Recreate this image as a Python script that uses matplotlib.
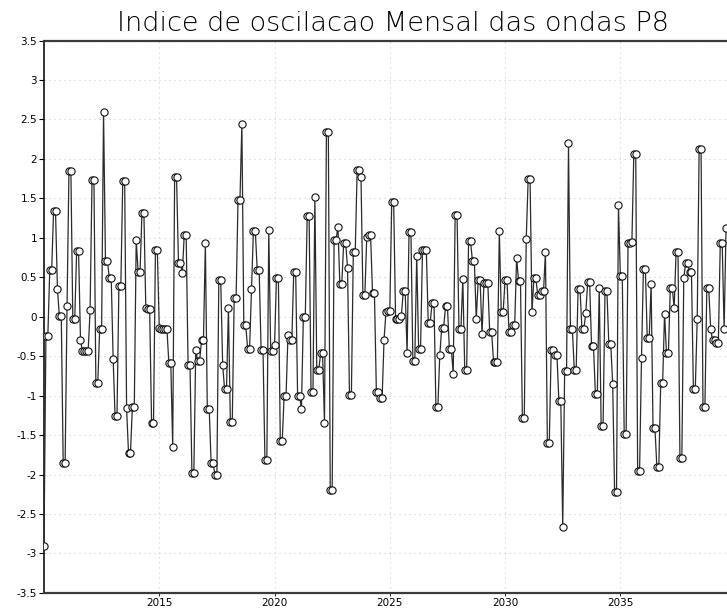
import numpy as np
import matplotlib
matplotlib.use("Agg")
import matplotlib.pyplot as plt

# Monthly P8 wave oscillation index, Jan 2010 onward (one row per year)
start_year = 2010
p8_index = [
    -2.91, -0.25, -0.25, 0.59, 0.59, 1.34, 1.34, 0.35, 0.01, 0.01, -1.86, -1.86,
    0.14, 1.85, 1.85, -0.03, -0.03, 0.83, 0.83, -0.29, -0.44, -0.44, -0.43, -0.43,
    0.08, 1.73, 1.73, -0.84, -0.84, -0.15, -0.15, 2.60, 0.71, 0.71, 0.49, 0.49,
    -0.54, -1.26, -1.26, 0.39, 0.39, 1.72, 1.72, -1.16, -1.73, -1.73, -1.15, -1.15,
    0.97, 0.57, 0.57, 1.32, 1.32, 0.11, 0.10, 0.10, -1.35, -1.35, 0.84, 0.84,
    -0.14, -0.16, -0.16, -0.16, -0.16, -0.59, -0.59, -1.65, 1.77, 1.77, 0.68, 0.68,
    0.55, 1.04, 1.04, -0.61, -0.61, -1.98, -1.98, -0.42, -0.56, -0.56, -0.30, -0.30,
    0.93, -1.17, -1.17, -1.86, -1.86, -2.00, -2.00, 0.46, 0.46, -0.61, -0.92, -0.92,
    0.11, -1.33, -1.33, 0.24, 0.24, 1.48, 1.48, 2.44, -0.10, -0.10, -0.41, -0.41,
    0.35, 1.08, 1.08, 0.59, 0.59, -0.42, -0.42, -1.82, -1.82, 1.10, -0.44, -0.44,
    -0.36, 0.49, 0.49, -1.58, -1.58, -1.00, -1.00, -0.23, -0.30, -0.30, 0.57, 0.57,
    -1.00, -1.00, -1.17, 0.00, 0.00, 1.28, 1.28, -0.96, -0.96, 1.52, -0.68, -0.68,
    -0.46, -0.46, -1.35, 2.34, 2.34, -2.20, -2.20, 0.97, 0.97, 1.14, 0.41, 0.41,
    0.94, 0.94, 0.62, -0.99, -0.99, 0.82, 0.82, 1.86, 1.86, 1.77, 0.27, 0.27,
    1.01, 1.03, 1.03, 0.30, 0.30, -0.95, -0.95, -1.03, -1.03, -0.29, 0.06, 0.07,
    0.07, 1.46, 1.46, -0.03, -0.03, -0.03, 0.01, 0.32, 0.32, -0.46, 1.07, 1.07,
    -0.56, -0.56, 0.77, -0.41, -0.41, 0.84, 0.84, 0.84, -0.08, -0.08, 0.17, 0.17,
    -1.15, -1.15, -0.49, -0.14, -0.14, 0.13, 0.13, -0.41, -0.41, -0.72, 1.29, 1.29,
    -0.16, -0.16, 0.48, -0.68, -0.68, 0.96, 0.96, 0.71, 0.71, -0.03, 0.46, 0.46,
    -0.22, 0.43, 0.43, 0.43, -0.20, -0.20, -0.57, -0.57, -0.57, 1.09, 0.06, 0.06,
    0.47, 0.47, -0.19, -0.19, -0.11, -0.11, 0.75, 0.45, 0.45, -1.28, -1.28, 0.98,
    1.74, 1.74, 0.06, 0.49, 0.49, 0.27, 0.27, 0.32, 0.32, 0.82, -1.60, -1.60,
    -0.42, -0.42, -0.49, -0.49, -1.07, -1.07, -2.66, -0.69, -0.69, 2.20, -0.15, -0.15,
    -0.67, -0.67, 0.35, 0.35, -0.16, -0.16, 0.05, 0.44, 0.44, -0.37, -0.37, -0.98,
    -0.98, 0.37, -1.39, -1.39, 0.32, 0.32, -0.35, -0.35, -0.85, -2.22, -2.22, 1.41,
    0.51, 0.51, -1.49, -1.49, 0.93, 0.94, 0.95, 2.06, 2.06, -1.96, -1.96, -0.52,
    0.61, 0.61, -0.27, -0.27, 0.41, -1.41, -1.41, -1.91, -1.91, -0.84, -0.84, 0.04,
    -0.46, -0.46, 0.37, 0.37, 0.11, 0.82, 0.82, -1.79, -1.79, 0.49, 0.68, 0.68,
    0.57, 0.57, -0.91, -0.91, -0.03, 2.13, 2.13, -1.15, -1.15, 0.36, 0.36, -0.15,
    -0.30, -0.30, -0.33, -0.33, 0.93, 0.93, -0.16, 1.12,
]

year_ticks = [2015, 2020, 2025, 2030, 2035]
y_ticks = [-3.5, -3, -2.5, -2, -1.5, -1, -0.5, 0, 0.5, 1, 1.5, 2, 2.5, 3, 3.5]
y_tick_labels = ["-3.5", "-3", "-2.5", "-2", "-1.5", "-1", "-0.5", "0",
                 "0.5", "1", "1.5", "2", "2.5", "3", "3.5"]

# fractional year for each monthly value
t = start_year + np.arange(len(p8_index)) / 12.0

fig = plt.figure(figsize=(7.27, 6.16), dpi=100)
# frame runs slightly past the right edge of the canvas
ax = fig.add_axes([0.0605, 0.0375, 0.959, 0.8967])

ax.plot(t, p8_index, color="#2b2b2b", linewidth=0.9, zorder=3,
        marker="o", markersize=5.2, markerfacecolor="white",
        markeredgecolor="#111111", markeredgewidth=0.8)

ax.set_xlim(2010, 2040.24)
ax.set_ylim(-3.5, 3.5)

ax.set_xticks(year_ticks)
ax.set_xticklabels([str(y) for y in year_ticks])
ax.set_yticks(y_ticks)
ax.set_yticklabels(y_tick_labels)

ax.grid(True, color="#cfcfcf", linestyle=(0, (1, 3.5)), linewidth=0.8)
ax.set_axisbelow(True)

for side in ["top", "bottom"]:
    ax.spines[side].set_linewidth(1.6)
    ax.spines[side].set_color("#3a3a3a")
ax.spines["left"].set_linewidth(1.2)
ax.spines["left"].set_color("#111111")

ax.tick_params(axis="y", direction="out", length=3.5, width=0.8,
               labelsize=7.5, pad=1.5)
ax.tick_params(axis="x", direction="out", length=2, width=0.6,
               labelsize=7.5, pad=2)

ax.set_title("Indice de oscilacao Mensal das ondas P8", fontsize=19.5,
             fontweight="light", color="black", pad=7)

fig.savefig("out.png", dpi=100)
